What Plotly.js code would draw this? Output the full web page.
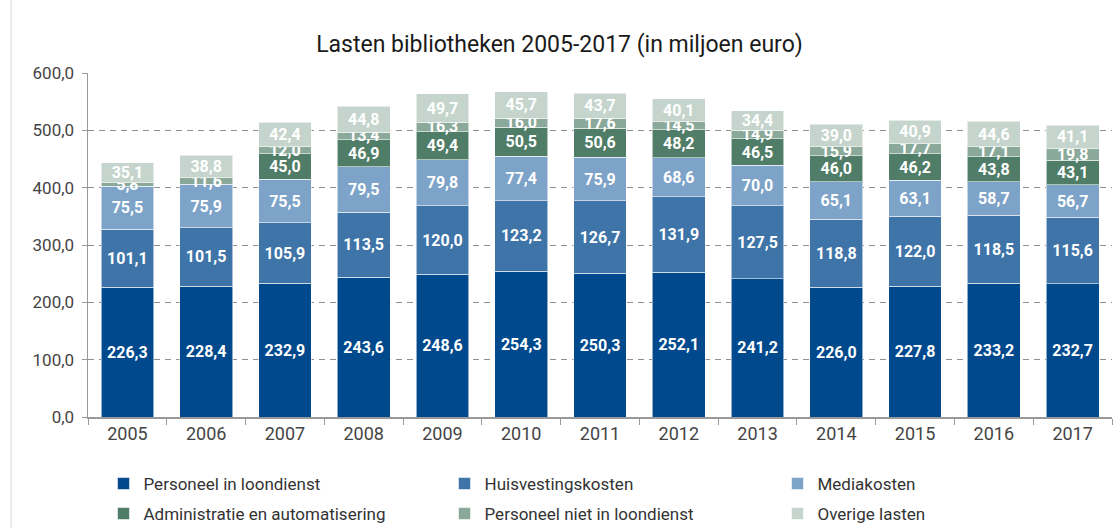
<!DOCTYPE html>
<html>
<head>
<meta charset="utf-8">
<script src="https://cdn.plot.ly/plotly-3.0.1.min.js"></script>
<style>html,body{margin:0;padding:0;background:#fff;}#chart{width:1119px;height:528px;}</style>
</head>
<body>
<div id="chart"></div>
<script>
const years = ['2005','2006','2007','2008','2009','2010','2011','2012','2013','2014','2015','2016','2017'];
const personeelInLoondienst = [226.3, 228.4, 232.9, 243.6, 248.6, 254.3, 250.3, 252.1, 241.2, 226.0, 227.8, 233.2, 232.7];
const huisvestingskosten = [101.1, 101.5, 105.9, 113.5, 120.0, 123.2, 126.7, 131.9, 127.5, 118.8, 122.0, 118.5, 115.6];
const mediakosten = [75.5, 75.9, 75.5, 79.5, 79.8, 77.4, 75.9, 68.6, 70.0, 65.1, 63.1, 58.7, 56.7];
const administratie = [null, null, 45.0, 46.9, 49.4, 50.5, 50.6, 48.2, 46.5, 46.0, 46.2, 43.8, 43.1];
const personeelNiet = [5.8, 11.6, 12.0, 13.4, 16.3, 16.0, 17.6, 14.5, 14.9, 15.9, 17.7, 17.1, 19.8];
const overige = [35.1, 38.8, 42.4, 44.8, 49.7, 45.7, 43.7, 40.1, 34.4, 39.0, 40.9, 44.6, 41.1];
const yTicks = [0, 100, 200, 300, 400, 500, 600];

const seriesNames = ['Personeel in loondienst','Huisvestingskosten','Mediakosten','Administratie en automatisering','Personeel niet in loondienst','Overige lasten'];
const seriesData = [personeelInLoondienst, huisvestingskosten, mediakosten, administratie, personeelNiet, overige];
const colors = ['#00498c','#3e74a8','#7ea3c8','#4f7d68','#8aa99a','#c5d5cd'];
const legendIds = ['legend','legend2','legend3','legend4','legend5','legend6'];

const traces = seriesData.map((vals, i) => ({
  type: 'bar',
  name: seriesNames[i],
  x: years,
  y: vals,
  legend: legendIds[i],
  marker: {color: colors[i], line: {color: 'rgba(255,255,255,0.55)', width: 1}},
  texttemplate: '%{y:.1f}',
  textposition: 'inside',
  insidetextanchor: 'middle',
  textangle: 0,
  constraintext: 'none',
  textfont: {family: 'Roboto, sans-serif', size: 16, color: '#ffffff', weight: 700},
  hoverinfo: 'skip'
}));

const legendCommon = {
  orientation: 'h',
  xref: 'container', yref: 'container',
  xanchor: 'left', yanchor: 'middle',
  itemwidth: 30,
  font: {family: 'Roboto, sans-serif', size: 17, color: '#333333'},
  bgcolor: 'rgba(0,0,0,0)',
  itemclick: false
};
const colX = [103.5/1119, 444.5/1119, 777.5/1119];
const rowY = [1 - 484/528, 1 - 514/528];

const layout = {
  width: 1119, height: 528,
  paper_bgcolor: '#ffffff', plot_bgcolor: '#ffffff',
  separators: ',.',
  barmode: 'stack',
  bargap: 0.33,
  margin: {l: 88, r: 7, t: 73, b: 111, autoexpand: false},
  title: {text: 'Lasten bibliotheken 2005-2017 (in miljoen euro)', font: {family: 'Roboto, sans-serif', size: 23, color: '#1a1a1a'}, x: 0.5, xanchor: 'center', y: 0.917, yanchor: 'middle'},
  uniformtext: {minsize: 16, mode: 'show'},
  xaxis: {
    type: 'category',
    tickson: 'boundaries', ticks: 'outside', ticklen: 6, tickcolor: '#999999',
    showline: true, linecolor: '#999999', linewidth: 1.5,
    tickfont: {family: 'Roboto, sans-serif', size: 18, color: '#444444'},
    tickangle: 0, automargin: false,
    showgrid: false, fixedrange: true
  },
  yaxis: {
    range: [0, 600], tickvals: yTicks, tickformat: '.1f',
    ticks: 'outside', ticklen: 5, tickcolor: '#999999',
    showline: true, linecolor: '#999999', linewidth: 1.5,
    showgrid: true, gridcolor: '#8f8f8f', griddash: '6px,5px', gridwidth: 1,
    zeroline: false, automargin: false,
    tickfont: {family: 'Roboto, sans-serif', size: 17, color: '#444444'},
    ticklabelstandoff: 4,
    fixedrange: true
  },
  shapes: [{type: 'line', xref: 'paper', yref: 'paper', x0: -0.075, x1: -0.075, y0: -0.35, y1: 1.3, line: {color: '#ececec', width: 2}}],
  showlegend: true
};
legendIds.forEach((id, i) => {
  layout[id] = Object.assign({}, legendCommon, {x: colX[i % 3], y: rowY[Math.floor(i / 3)]});
});

Plotly.newPlot('chart', traces, layout, {displayModeBar: false, staticPlot: true});
</script>
</body>
</html>
